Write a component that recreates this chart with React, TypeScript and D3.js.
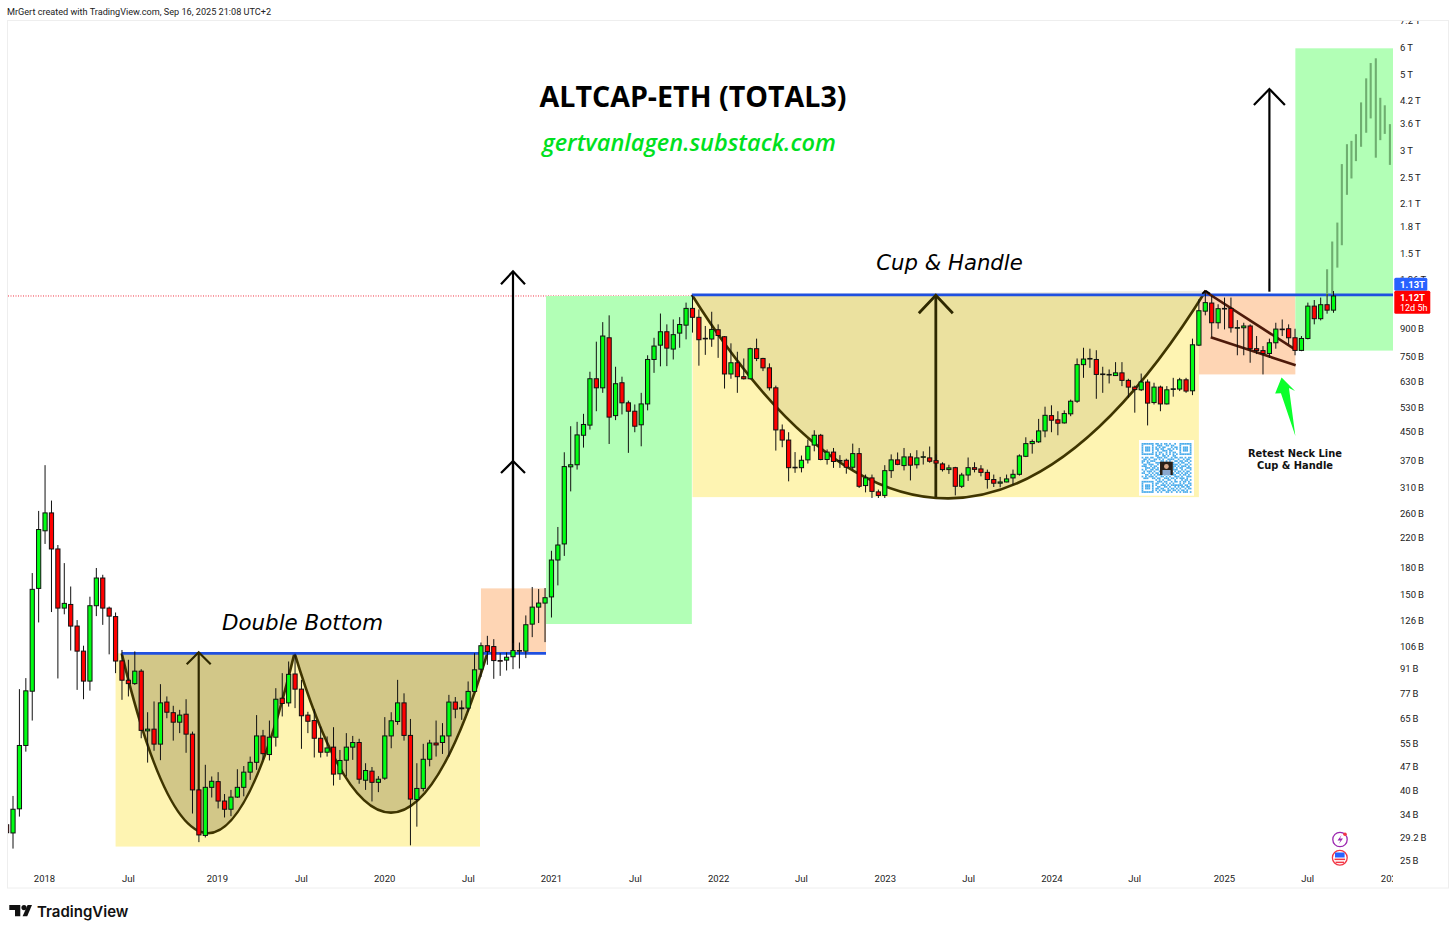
import { useEffect, useRef } from "react";
import * as d3 from "d3";

const WIDTH = 1456;
const HEIGHT = 934;

// two-week candles, prices in billions
const opens = [
  31.7, 30, 35.3, 54.1, 78, 156, 230, 259.5, 203.5, 136.6,
  140, 121, 102.2, 83.5, 138.8, 167.3, 136.6, 129, 95.7, 84,
  82.1, 89.3, 59.7, 60.4, 54.6, 72.5, 67.5, 63.3, 66.8, 58.4,
  40.1, 29.5, 40.8, 42.4, 37.2, 35.2, 38.2, 40.8, 45.2, 48.3,
  57.7, 50.9, 57.2, 74.4, 72.1, 87.6, 79.1, 66.4, 64, 56.8,
  51.7, 53.5, 44.7, 49, 53.5, 55.2, 42.8, 45.5, 42.2, 43.4,
  57.7, 63.6, 72.1, 57.9, 37.6, 40.5, 49.3, 55, 55.2, 57.7,
  72.5, 69.7, 69.6, 77.9, 90.5, 106, 105.4, 95.9, 96.2, 98.4,
  102.6, 102.2, 122.6, 137.5, 141.3, 147.3, 188.9, 210.5, 354, 359,
  438, 469, 641, 603, 845, 500, 624, 545, 515, 470,
  541, 730, 804, 880, 783, 872, 920, 1030, 970, 840,
  838, 892, 851, 662, 714, 650, 641, 785, 735, 690,
  603, 454, 424, 353, 352, 371, 410, 438, 372, 391,
  369, 370, 353, 387, 312, 328.5, 299, 292, 345, 371,
  357, 378.5, 359, 378, 376, 369, 361, 347.5, 352, 310.5,
  335, 352, 349, 341, 325, 317, 319.7, 328.5, 336.6, 380,
  414, 419, 451, 500, 486, 476, 506, 551, 705, 733,
  730, 661, 659, 655, 667, 634, 606, 595, 627, 546,
  606, 541, 598, 598, 636.5, 591, 804, 1011, 1068, 935,
  1028, 1030, 904, 904, 915, 785, 775, 760, 817, 894,
  898, 845, 776, 841, 1046, 961, 1056, 1018,
];
const closes = [
  30.05, 35.2, 54.1, 78.2, 155, 232, 259.5, 203.5, 136.6, 141,
  121, 102.2, 83.5, 138.8, 167.3, 136.6, 129.4, 95.6, 84, 82.1,
  89.3, 59.9, 60.4, 54.6, 72.1, 67.7, 63.3, 66.4, 58.4, 40.1,
  29.6, 40.8, 42.5, 37.2, 35.2, 38.2, 40.8, 45.2, 48.3, 57.7,
  51.2, 57.2, 73.9, 71.8, 87.4, 79.1, 66.1, 63.7, 56.8, 51.7,
  53.2, 44.6, 48.9, 53.5, 55.2, 43.1, 45.7, 42.2, 43.1, 57.7,
  63.9, 72.1, 57.9, 37.7, 40.5, 49.3, 55, 54.3, 57.7, 72.5,
  69.1, 69.3, 77.9, 90.1, 106, 101.9, 95.9, 95.7, 98.1, 102.6,
  102.4, 122.1, 137.5, 141.3, 146.5, 188.9, 209, 354.6, 359, 439,
  471, 641, 603, 855, 495, 620, 545, 515, 465.5, 541,
  730, 799, 880, 788, 863, 924, 1030, 970, 834, 842,
  894, 858, 662, 714, 650, 641, 785, 735, 690, 603,
  454, 424, 352, 352, 370, 406.6, 438, 372, 391, 367,
  369.5, 353, 387, 310.5, 328.5, 300, 292, 345, 371, 360,
  378.5, 358, 376, 379, 367.5, 363, 347.5, 351.5, 310.5, 335,
  352, 348, 341, 325, 317, 319.7, 326.3, 336.6, 381, 414,
  420, 451, 501, 484.7, 475, 507, 551, 705, 732, 735,
  660, 662, 660, 667, 634, 606, 596, 627, 544, 606,
  541, 595, 599, 636.5, 590, 806, 1014, 1071, 935, 1028,
  1030, 904, 905, 915, 785, 775, 760, 817, 896, 896,
  845, 776, 841, 1046, 961, 1056, 1018, 1120,
];
const highs = [
  33, 38.5, 79.1, 85.2, 173, 263, 358, 282, 209, 185,
  158, 126, 106, 147.5, 179, 171, 138, 132.6, 103, 96.4,
  102, 90.5, 67.7, 72.8, 81.8, 75.3, 70.7, 68.8, 73.9, 59.4,
  40.3, 47.5, 43.9, 45.2, 39, 40.1, 46.1, 47.1, 50.2, 66.4,
  60.1, 64, 79.6, 88.1, 95.3, 100.4, 84.2, 67.9, 69.1, 61.4,
  57.5, 61.2, 52.5, 58.8, 57.7, 56.6, 48, 46.8, 44, 65.5,
  67.7, 84.2, 76.9, 64.7, 48, 54.7, 56.2, 64, 62.9, 76.1,
  75, 73.3, 83.3, 100.8, 108.3, 113.3, 110.8, 100.8, 101.3, 107.9,
  108.3, 130, 157.5, 155.3, 156.4, 201, 236, 390.5, 465.5, 479.5,
  506, 672, 823, 939, 983, 695, 650, 553, 539, 583,
  751, 845, 995, 925, 956, 971, 1071, 1125, 1023, 915,
  1007, 925, 855, 814, 769, 735, 790, 840, 738, 711,
  612, 471, 447, 391, 382, 425.5, 453, 442, 398, 402,
  383, 374, 414, 402, 336, 336, 303.6, 358, 385, 390,
  402, 388, 396, 393, 406, 385, 365, 359, 354, 340,
  377, 365, 358, 347.5, 336, 330.7, 336, 347.5, 385, 432,
  425.5, 489, 531, 536, 515, 518, 557, 735, 790, 785,
  777, 695, 682.5, 717, 717, 641, 612, 664, 638, 624,
  612, 610, 645, 645, 645, 840, 1095, 1147, 1120, 1059,
  1108, 1108, 952, 935, 925, 855, 799, 840, 935, 956,
  925, 898, 855, 1071, 1090, 1108, 1134, 1158,
];
const lows = [
  28, 27, 33.5, 51.9, 64, 124, 210.5, 133, 85, 131,
  102.6, 78.7, 73.9, 78.3, 129.4, 122, 100, 88.1, 73.6, 75.3,
  81.4, 56.8, 48.2, 52.2, 49, 65, 55.9, 58.8, 51.5, 34.2,
  28.2, 29.1, 38.1, 35.4, 33.3, 33.6, 38, 38.4, 42.9, 45.9,
  49.1, 48.9, 53.7, 65.8, 70.3, 69.6, 52.9, 58.8, 49.9, 49.9,
  50.2, 41.3, 42.9, 43.9, 49.1, 41.8, 40.1, 37.1, 39.5, 42.9,
  53.1, 62.2, 55.9, 27.6, 31.3, 39.7, 47, 50.2, 51.1, 50.2,
  65, 64.3, 67.9, 77.3, 85.8, 93.2, 84.8, 86.5, 89.7, 90.5,
  90.9, 97.5, 112.3, 123.5, 108.6, 128.2, 159.2, 194.2, 300, 347.5,
  403, 455, 515, 583, 413, 485, 504, 389, 447, 406.6,
  518, 667, 697, 698, 730, 790, 836, 875, 700, 753,
  795, 738, 600, 641, 583, 638, 638, 722, 675, 592,
  395, 404, 321, 340, 341, 362, 393, 370, 359.5, 351.5,
  351.5, 338, 347.5, 307, 298, 287, 287, 287, 328.5, 358,
  345.5, 323, 350, 359.5, 364, 351.5, 343, 337.5, 292, 307,
  322, 341, 332, 305.6, 309, 308.4, 319, 314, 333.7, 378,
  387, 416, 432, 447, 438, 474, 498, 545, 645, 690,
  560, 583, 621, 653, 610, 564, 510, 590, 468, 539,
  515, 539, 568, 590, 583, 574, 799, 983, 851, 898,
  894, 875, 751, 751, 714, 757, 660, 738, 785, 855,
  809, 751, 772, 836, 925, 950, 994, 1000,
];

// bars-pattern projection pasted after the last candle
const ghostIndex = [206, 206.8, 207.6, 208.3, 209.1, 209.8, 210.5, 211.3, 212.1, 212.8, 213.6, 214.3, 215, 215.8];
const ghostHighs = [1341, 1617, 1837, 2725, 3116, 3187, 3334, 4130, 4857, 5385, 5560, 4260, 4050, 3567];
const ghostLows = [1120, 1134, 1356, 1577, 2215, 2473, 2780, 3062, 3366, 3707, 2845, 3202, 3340, 2710];

const yTicks = [7200, 6000, 5000, 4200, 3600, 3000, 2500, 2100, 1800, 1500, 1260, 900, 750, 630, 530, 450, 370, 310, 260, 220, 180, 150, 126, 106, 91, 77, 65, 55, 47, 40, 34, 29.2, 25];
const xTickIndex = [5.83, 18.94, 32.8, 45.9, 58.9, 71.98, 84.9, 98, 111, 123.9, 137, 150, 163, 175.9, 189.9, 202.9, 215.97];
const xTickLabels = ["2018", "Jul", "2019", "Jul", "2020", "Jul", "2021", "Jul", "2022", "Jul", "2023", "Jul", "2024", "Jul", "2025", "Jul", "2026"];

// drawings: [from, to, top price, bottom price, colour]
const zones: [number, number, number, number, string][] = [
  [17, 73.85, 100.7, 27.37, "#fef4b2"],
  [74, 84.15, 156, 100.7, "#fed5b4"],
  [84.15, 106.9, 1120, 122.7, "#b2ffb6"],
  [107, 186, 1129, 288.6, "#fef4b2"],
  [186, 201.05, 1129, 660, "#fed5b4"],
  [201.05, 216.3, 5947, 775, "#b2ffb6"],
];
// arcs: [from, to, start price, end price, control price, fill opacity]
const arcs: [number, number, number, number, number, number][] = [
  [17.96, 44.9, 100.7, 100.7, 8.91, 0.23],
  [44.94, 74.99, 100.7, 100.7, 11.75, 0.23],
  [106.9, 187.07, 1129, 1160, 71.6, 0.1],
];
// necklines: [from, to, price]
const necks: [number, number, number][] = [
  [17.96, 84.15, 100.7],
  [106.9, 216.3, 1129],
];
// arrows: [index, price from, price to, head half width, head height, colour, width]
const arrows: [number, number, number, number, number, string, number][] = [
  [29.97, 29.6, 101.4, 12, 12, "#2e2800", 2.2],
  [79, 100.7, 1323, 12, 13, "#000000", 2.2],
  [79, 100.7, 368, 12, 12, "#000000", 2.2],
  [144.96, 288.6, 1125, 17, 18, "#2e2800", 2.8],
  [197, 1153, 4518, 15.5, 16, "#000000", 2.2],
];
// lines: [from, to, start price, end price, colour, width]
const lines: [number, number, number, number, string, number][] = [
  [186.8, 201, 1160, 781, "#4d1a0a", 2.6],
  [187.85, 201.1, 848, 702, "#4d1a0a", 2.6],
  [186.5, 187.07, 1137, 1160, "#000000", 1.6],
  [187.07, 187.75, 1160, 1137, "#000000", 1.6],
];
const pointerIndex = [198.9, 201, 200.05, 201.05, 198.8, 197.9];
const pointerPrice = [647, 590, 602, 436, 581, 580];

const qrRows = [
  "11111110110101101001001111111",
  "10000010011100110110001000001",
  "10111010101011000101101011101",
  "10111010110110011010101011101",
  "10111010010011101100001011101",
  "10000010101100101011001000001",
  "11111110101010101010101111111",
  "00000000110011010011000000000",
  "10110110011101100101101101011",
  "01101001101010011110010010110",
  "11010111000110101001101101101",
  "10011000111001110110010110010",
  "01101110010110001011101001101",
  "11100101100000000011010111010",
  "00111011010000000010101100111",
  "10100110110000000011100101001",
  "01011101001100110101011010110",
  "11001010110011001010110101101",
  "00110101011101010111001011010",
  "10101110100110101001110100111",
  "01110011011001110110101110100",
  "00000000101010011001000101101",
  "11111110011101100101101011010",
  "10000010110010101010001010011",
  "10111010100111010111111101101",
  "10111010011001101001010110110",
  "10111010110110010110101001011",
  "10000010101011011011010110100",
  "11111110010100110100101011101",
];

function priceLabel(v: number) {
  return v >= 1000 ? `${v / 1000}\u2009T` : `${v}\u2009B`;
}

export default function App() {
  const svgRef = useRef<SVGSVGElement | null>(null);

  useEffect(() => {
    if (!svgRef.current) return;
    const svg = d3.select(svgRef.current);
    svg.selectAll("*").remove();

    const x = d3.scaleLinear().domain([0, 207]).range([6.6, 1333.5]);
    const y = d3.scaleLog().domain([25, 6000]).range([860, 47]);

    const defs = svg.append("defs");
    defs.append("clipPath").attr("id", "plot").append("rect").attr("x", 8).attr("y", 21).attr("width", 1385).attr("height", 867);
    defs.append("clipPath").attr("id", "scale").append("rect").attr("x", 1393).attr("y", 21).attr("width", 55).attr("height", 867);
    defs.append("clipPath").attr("id", "times").append("rect").attr("x", 8).attr("y", 860).attr("width", 1385).attr("height", 28);

    svg.append("rect").attr("width", WIDTH).attr("height", HEIGHT).attr("fill", "#fff");

    const sans = "'DejaVu Sans', sans-serif";
    const small = "Roboto, sans-serif";
    svg.append("text").attr("x", 7).attr("y", 14.5)
      .attr("font-family", small).attr("font-size", 9.15).attr("fill", "#222")
      .text("MrGert created with TradingView.com, Sep 16, 2025 21:08 UTC+2");

    // frame
    svg.append("rect").attr("x", 7.5).attr("y", 20.5).attr("width", 1441).attr("height", 867.5)
      .attr("fill", "none").attr("stroke", "#eeeeee");

    const plot = svg.append("g").attr("clip-path", "url(#plot)");

    // price line
    plot.append("line")
      .attr("x1", 8).attr("x2", 1393).attr("y1", y(1120)).attr("y2", y(1120))
      .attr("stroke", "#f23645").attr("stroke-width", 1).attr("stroke-dasharray", "1 1.5");

    // zones
    plot.append("g").selectAll("rect").data(zones).join("rect")
      .attr("x", (d) => x(d[0]))
      .attr("width", (d) => x(d[1]) - x(d[0]))
      .attr("y", (d) => y(d[2]))
      .attr("height", (d) => y(d[3]) - y(d[2]))
      .attr("fill", (d) => d[4]);

    // cups
    const arcPath = (d: [number, number, number, number, number, number]) => {
      const p = d3.path();
      p.moveTo(x(d[0]), y(d[2]));
      p.quadraticCurveTo(x((d[0] + d[1]) / 2), y(d[4]), x(d[1]), y(d[3]));
      return p.toString();
    };
    plot.append("g").selectAll("path").data(arcs).join("path")
      .attr("d", arcPath)
      .attr("fill", "#403600")
      .attr("fill-opacity", (d) => d[5])
      .attr("stroke", "#3f3500")
      .attr("stroke-width", 2.6);

    // necklines
    plot.append("g").selectAll("line").data(necks).join("line")
      .attr("x1", (d) => x(d[0])).attr("x2", (d) => x(d[1]))
      .attr("y1", (d) => y(d[2])).attr("y2", (d) => y(d[2]))
      .attr("stroke", "#1f50e0").attr("stroke-width", 2.8);

    // arrows
    const arrowG = plot.append("g").attr("fill", "none");
    arrows.forEach((a) => {
      const ax = x(a[0]);
      arrowG.append("line").attr("x1", ax).attr("x2", ax).attr("y1", y(a[1])).attr("y2", y(a[2]))
        .attr("stroke", a[5]).attr("stroke-width", a[6]);
      arrowG.append("path")
        .attr("d", d3.line()([[ax - a[3], y(a[2]) + a[4]], [ax, y(a[2])], [ax + a[3], y(a[2]) + a[4]]]))
        .attr("stroke", a[5]).attr("stroke-width", a[6]);
    });

    plot.append("g").selectAll("line").data(lines).join("line")
      .attr("x1", (d) => x(d[0])).attr("x2", (d) => x(d[1]))
      .attr("y1", (d) => y(d[2])).attr("y2", (d) => y(d[3]))
      .attr("stroke", (d) => d[4]).attr("stroke-width", (d) => d[5]);

    plot.append("polygon")
      .attr("points", pointerIndex.map((p, i) => `${x(p)},${y(pointerPrice[i])}`).join(" "))
      .attr("fill", "#0bff2c");

    // projection bars
    plot.append("g").selectAll("line").data(ghostIndex).join("line")
      .attr("x1", (d) => x(d)).attr("x2", (d) => x(d))
      .attr("y1", (_, i) => y(ghostHighs[i])).attr("y2", (_, i) => y(ghostLows[i]))
      .attr("stroke", "#6fae70").attr("stroke-width", 2.1);

    // candles
    const candles = plot.append("g");
    candles.selectAll("line").data(opens).join("line")
      .attr("x1", (_, i) => x(i)).attr("x2", (_, i) => x(i))
      .attr("y1", (_, i) => y(highs[i])).attr("y2", (_, i) => y(lows[i]))
      .attr("stroke", "#111").attr("stroke-width", 1);
    candles.selectAll("rect").data(opens).join("rect")
      .attr("x", (_, i) => x(i) - 2.1)
      .attr("width", 4.2)
      .attr("y", (d, i) => y(Math.max(d, closes[i])))
      .attr("height", (d, i) => Math.max(0.6, Math.abs(y(d) - y(closes[i]))))
      .attr("fill", (d, i) => (closes[i] >= d ? "#00ff14" : "#ff0000"))
      .attr("stroke", "#111").attr("stroke-width", 1);

    // annotations
    svg.append("text").attr("x", 693).attr("y", 107).attr("text-anchor", "middle")
      .attr("font-family", "'Open Sans', sans-serif").attr("font-weight", 700).attr("font-size", 28.6).attr("fill", "#000")
      .text("ALTCAP-ETH (TOTAL3)");
    svg.append("text").attr("x", 689).attr("y", 151).attr("text-anchor", "middle")
      .attr("font-family", "'Open Sans', sans-serif").attr("font-style", "italic").attr("font-weight", 600).attr("font-size", 23.5).attr("fill", "#00e020")
      .text("gertvanlagen.substack.com");
    svg.append("text").attr("x", 949.5).attr("y", 270).attr("text-anchor", "middle")
      .attr("font-family", sans).attr("font-style", "italic").attr("font-size", 21.2).attr("fill", "#000")
      .text("Cup & Handle");
    svg.append("text").attr("x", 302.5).attr("y", 630).attr("text-anchor", "middle")
      .attr("font-family", sans).attr("font-style", "italic").attr("font-size", 21.4).attr("fill", "#000")
      .text("Double Bottom");
    svg.append("text").attr("x", 1295).attr("y", 457).attr("text-anchor", "middle")
      .attr("font-family", sans).attr("font-weight", "bold").attr("font-size", 9.9).attr("fill", "#111")
      .text("Retest Neck Line");
    svg.append("text").attr("x", 1295).attr("y", 469).attr("text-anchor", "middle")
      .attr("font-family", sans).attr("font-weight", "bold").attr("font-size", 9.9).attr("fill", "#111")
      .text("Cup & Handle");

    // qr code sticker
    const qr = svg.append("g");
    qr.append("rect").attr("x", 1139).attr("y", 440).attr("width", 55).attr("height", 55.7).attr("fill", "#fff");
    qrRows.forEach((row, r) => {
      row.split("").forEach((c, col) => {
        if (c === "1") {
          qr.append("rect").attr("x", 1141.6 + col * 1.72).attr("y", 443 + r * 1.72)
            .attr("width", 1.72).attr("height", 1.72).attr("fill", "#4aaceb");
        }
      });
    });
    qr.append("rect").attr("x", 1160).attr("y", 461.7).attr("width", 12.8).attr("height", 13.3).attr("fill", "#2a2018");
    qr.append("circle").attr("cx", 1166.4).attr("cy", 466.5).attr("r", 2.4).attr("fill", "#d8a888");
    qr.append("rect").attr("x", 1162.5).attr("y", 470).attr("width", 8).attr("height", 5).attr("fill", "#8aa8d0");

    // event icons
    const icons = svg.append("g");
    icons.append("circle").attr("cx", 1340).attr("cy", 839.5).attr("r", 7.2).attr("fill", "#fff").attr("stroke", "#9c27b0").attr("stroke-width", 1.3);
    icons.append("path").attr("d", "M1341.5 835 L1337.5 840.5 H1340.5 L1338.8 844 L1343 838.5 H1340 Z").attr("fill", "#9c27b0");
    icons.append("circle").attr("cx", 1345).attr("cy", 834.3).attr("r", 1.8).attr("fill", "#f23645");
    icons.append("circle").attr("cx", 1339.8).attr("cy", 857.8).attr("r", 7.4).attr("fill", "#fff").attr("stroke", "#f23645").attr("stroke-width", 1.3);
    icons.append("rect").attr("x", 1335).attr("y", 852.5).attr("width", 9.6).attr("height", 5).attr("fill", "#2962ff");
    icons.append("rect").attr("x", 1334.5).attr("y", 858.6).attr("width", 10.6).attr("height", 1.5).attr("fill", "#f23645");
    icons.append("rect").attr("x", 1335.5).attr("y", 861.6).attr("width", 8.6).attr("height", 1.5).attr("fill", "#f23645");

    // price axis
    const yAxis = svg.append("g")
      .attr("clip-path", "url(#scale)")
      .append("g")
      .attr("transform", "translate(1400,0.5)")
      .call(d3.axisRight(y).tickValues(yTicks).tickSize(0).tickPadding(0).tickFormat((d) => priceLabel(+d)));
    yAxis.select(".domain").remove();
    yAxis.selectAll("text").attr("font-family", small).attr("font-size", 9.5).attr("fill", "#222");

    // time axis
    const xAxis = svg.append("g")
      .attr("clip-path", "url(#times)")
      .append("g")
      .attr("transform", "translate(0,875)")
      .call(d3.axisBottom(x).tickValues(xTickIndex).tickSize(0).tickPadding(0)
        .tickFormat((_, i) => xTickLabels[i]));
    xAxis.select(".domain").remove();
    xAxis.selectAll("text").attr("font-family", small).attr("font-size", 9.5).attr("fill", "#222");

    // last price badges
    const badge = svg.append("g").attr("font-family", small).attr("font-size", 9.5).attr("fill", "#fff");
    badge.append("rect").attr("x", 1394.3).attr("y", 277.7).attr("width", 33).attr("height", 13).attr("rx", 1.5).attr("fill", "#2962ff");
    badge.append("text").attr("x", 1400).attr("y", 287.5).attr("font-weight", "bold").text("1.13T");
    badge.append("rect").attr("x", 1394.3).attr("y", 290.7).attr("width", 36).attr("height", 23).attr("rx", 1.5).attr("fill", "#ff0000");
    badge.append("text").attr("x", 1400).attr("y", 300.5).attr("font-weight", "bold").text("1.12T");
    badge.append("text").attr("x", 1400).attr("y", 310.7).attr("font-size", 9).text("12d 5h");

    // logo
    const logo = svg.append("g").attr("fill", "#111");
    logo.append("path").attr("d", "M9.3 905 H20.3 V916.2 H15 V910 H9.3 Z");
    logo.append("circle").attr("cx", 24).attr("cy", 907.6).attr("r", 2.6);
    logo.append("path").attr("d", "M27.6 905 H32 L27.2 916.2 H22.6 Z");
    logo.append("text").attr("x", 37).attr("y", 916.5).attr("font-family", "Inter, sans-serif")
      .attr("font-weight", 600).attr("font-size", 15).text("TradingView");
  }, []);

  return (
    <svg
      ref={svgRef}
      width={WIDTH}
      height={HEIGHT}
      viewBox={`0 0 ${WIDTH} ${HEIGHT}`}
      style={{ position: "absolute", left: 0, top: 0, display: "block" }}
    />
  );
}
